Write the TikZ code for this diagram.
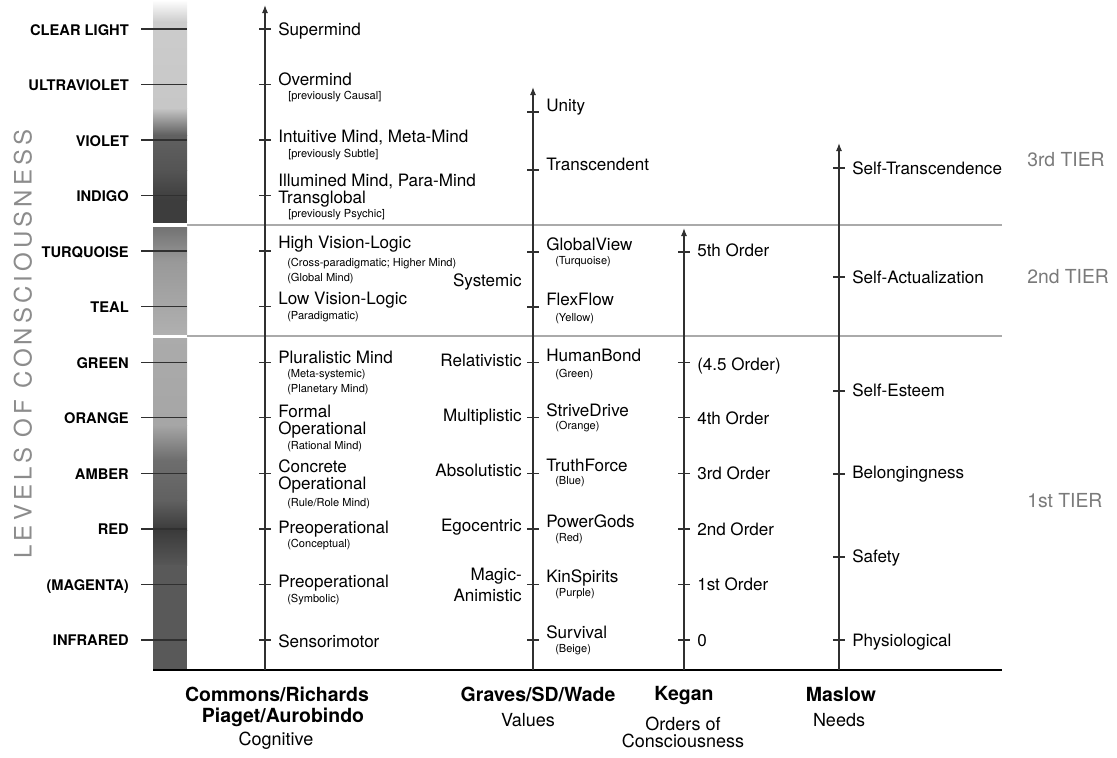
\documentclass[tikz,border=0pt]{standalone}
\usepackage{fontspec}
\setmainfont{TeX Gyre Heros}
\newfontfamily\levelsfont[LetterSpace=17]{TeX Gyre Heros}
\usetikzlibrary{arrows.meta}
\definecolor{Axis_Gray}{HTML}{303030}
\definecolor{Tier_Gray}{HTML}{AAAAAA}
\definecolor{Tier_Text}{HTML}{7A7A7A}
\definecolor{Levels_Text}{HTML}{8C8C8C}

\begin{document}
\begin{tikzpicture}[x=0.75pt, y=-0.75pt,
    axis/.style={draw=Axis_Gray, line width=0.9pt, -{Latex[length=6pt,width=4.5pt]}},
    tick/.style={draw=Axis_Gray, line width=0.8pt},
    tierline/.style={draw=Tier_Gray, line width=1.4pt},
    levelname/.style={font=\fontsize{11}{13}\selectfont\bfseries, anchor=base east, inner sep=0pt},
    stage/.style={font=\fontsize{12.8}{14}\selectfont, anchor=base west, inner sep=0pt},
    stageleft/.style={stage, anchor=base east},
    note/.style={font=\fontsize{8.3}{9}\selectfont, anchor=base west, inner sep=0pt},
    tier/.style={font=\fontsize{14.5}{16}\selectfont, text=Tier_Text, anchor=base west, inner sep=0pt},
    head/.style={font=\fontsize{14.6}{16}\selectfont\bfseries, anchor=base, inner sep=0pt},
    subhead/.style={font=\fontsize{13.5}{15}\selectfont, anchor=base, inner sep=0pt}]
    \useasboundingbox (0,0) rectangle (1117,757);

    % Shaded bar of the levels, three pieces
    \shade[top color=white, bottom color=black!20] (153,0) rectangle (187,22);
    \shade[top color=black!20, bottom color=black!22] (153,22) rectangle (187,108);
    \shade[top color=black!22, bottom color=black!62] (153,108) rectangle (187,135);
    \shade[top color=black!62, bottom color=black!67] (153,135) rectangle (187,170);
    \shade[top color=black!67, bottom color=black!76] (153,170) rectangle (187,200);
    \fill[black!76] (153,200) rectangle (187,223);
    \shade[top color=black!55, bottom color=black!40] (153,227) rectangle (187,262);
    \shade[top color=black!40, bottom color=black!31] (153,262) rectangle (187,334);
    \shade[top color=black!33, bottom color=black!35] (153,338) rectangle (187,425);
    \shade[top color=black!35, bottom color=black!57] (153,425) rectangle (187,460);
    \shade[top color=black!57, bottom color=black!62] (153,460) rectangle (187,500);
    \shade[top color=black!62, bottom color=black!77] (153,500) rectangle (187,530);
    \shade[top color=black!77, bottom color=black!66] (153,530) rectangle (187,565);
    \fill[black!65] (153,565) rectangle (187,670);

    % Tier lines and base line
    \draw[tierline] (187,225) -- (1002,225);
    \draw[tierline] (187,336) -- (1002,336);
    \draw[line width=1.6pt] (153,670) -- (1002,670);

    % Levels of consciousness
    \foreach \y in {29,84.5,140,195.6,251,306.8,362.3,417.9,473.4,529,584.5,640}
        \draw[tick] (141,\y) -- (187,\y);
    \node[levelname] (clearlight) at (129,35) {CLEAR LIGHT};
    \node[levelname] (ultraviolet) at (129,90.5) {ULTRAVIOLET};
    \node[levelname] (violet) at (129,146) {VIOLET};
    \node[levelname] (indigo) at (129,201.5) {INDIGO};
    \node[levelname] (turquoise) at (129,257) {TURQUOISE};
    \node[levelname] (teal) at (129,312.5) {TEAL};
    \node[levelname] (green) at (129,368) {GREEN};
    \node[levelname] (orange) at (129,423.5) {ORANGE};
    \node[levelname] (amber) at (129,479) {AMBER};
    \node[levelname] (red) at (129,534.5) {RED};
    \node[levelname] (magenta) at (129,590) {(MAGENTA)};
    \node[levelname] (infrared) at (129,645.5) {INFRARED};
    \node[rotate=90, text=Levels_Text, inner sep=0pt] (levels) at (23,344)
        {\levelsfont\fontsize{18}{20}\selectfont LEVELS OF CONSCIOUSNESS};

    % Cognitive line
    \coordinate (cogfoot) at (265,670);
    \coordinate (cogtip) at (265,5);
    \draw[axis] (cogfoot) -- (cogtip);
    \foreach \y in {29,84.5,140,195.6,251,306.8,362.3,417.9,473.4,529,584.5,640}
        \draw[tick] (259,\y) -- (271,\y);
    \node[stage] (supermind) at (278,35) {Supermind};
    \node[stage] (overmind) at (278,85) {Overmind};
    \node[note] (causal) at (288,99) {[previously Causal]};
    \node[stage] (intuitive) at (278,142) {Intuitive Mind, Meta-Mind};
    \node[note] (subtle) at (288,157) {[previously Subtle]};
    \node[stage] (illumined) at (278,186) {Illumined Mind, Para-Mind};
    \node[stage] (transglobal) at (278,203) {Transglobal};
    \node[note] (psychic) at (288,217) {[previously Psychic]};
    \node[stage] (highvl) at (278,248) {High Vision-Logic};
    \node[note] (crossparadigm) at (287,266) {(Cross-paradigmatic; Higher Mind)};
    \node[note] (globalmind) at (287,281) {(Global Mind)};
    \node[stage] (lowvl) at (278,304) {Low Vision-Logic};
    \node[note] (paradigm) at (287,319) {(Paradigmatic)};
    \node[stage] (pluralistic) at (278,363) {Pluralistic Mind};
    \node[note] (metasystemic) at (287,377) {(Meta-systemic)};
    \node[note] (planetary) at (287,392) {(Planetary Mind)};
    \node[stage] (formal) at (278,417) {Formal};
    \node[stage] (formalop) at (278,434) {Operational};
    \node[note] (rational) at (287,449) {(Rational Mind)};
    \node[stage] (concrete) at (278,472) {Concrete};
    \node[stage] (concreteop) at (278,489) {Operational};
    \node[note] (rulerole) at (287,506) {(Rule/Role Mind)};
    \node[stage] (preopconc) at (278,533) {Preoperational};
    \node[note] (conceptual) at (287,547) {(Conceptual)};
    \node[stage] (preopsymb) at (278,587) {Preoperational};
    \node[note] (symbolic) at (287,602) {(Symbolic)};
    \node[stage] (sensorimotor) at (278,647) {Sensorimotor};

    % Values line
    \coordinate (valfoot) at (533,670);
    \coordinate (valtip) at (533,87);
    \draw[axis] (valfoot) -- (valtip);
    \foreach \y in {112,170,252,307,362.3,417.9,473.4,529,584.5,640}
        \draw[tick] (527,\y) -- (539,\y);
    \node[stageleft] (systemic) at (522,286) {Systemic};
    \node[stageleft] (relativistic) at (522,366) {Relativistic};
    \node[stageleft] (multiplistic) at (522,421) {Multiplistic};
    \node[stageleft] (absolutistic) at (522,476) {Absolutistic};
    \node[stageleft] (egocentric) at (522,531) {Egocentric};
    \node[stageleft] (magic) at (522,580) {Magic-};
    \node[stageleft] (animistic) at (522,601) {Animistic};
    \node[stage] (unity) at (546,111) {Unity};
    \node[stage] (transcendent) at (546,170) {Transcendent};
    \node[stage] (globalview) at (546,250) {GlobalView};
    \node[note] (turq) at (555,264) {(Turquoise)};
    \node[stage] (flexflow) at (546,305) {FlexFlow};
    \node[note] (yellow) at (555,321) {(Yellow)};
    \node[stage] (humanbond) at (546,361) {HumanBond};
    \node[note] (greenmeme) at (555,377) {(Green)};
    \node[stage] (strivedrive) at (546,416) {StriveDrive};
    \node[note] (orangememe) at (555,429) {(Orange)};
    \node[stage] (truthforce) at (546,471) {TruthForce};
    \node[note] (bluememe) at (555,484) {(Blue)};
    \node[stage] (powergods) at (546,527) {PowerGods};
    \node[note] (redmeme) at (555,541) {(Red)};
    \node[stage] (kinspirits) at (546,582) {KinSpirits};
    \node[note] (purplememe) at (555,596) {(Purple)};
    \node[stage] (survival) at (546,638) {Survival};
    \node[note] (beigememe) at (555,652) {(Beige)};

    % Orders line
    \coordinate (ordfoot) at (684,670);
    \coordinate (ordtip) at (684,228);
    \draw[axis] (ordfoot) -- (ordtip);
    \foreach \y in {252,362.3,417.9,473.4,529,584.5,640}
        \draw[tick] (678,\y) -- (690,\y);
    \node[stage] (fifth) at (697,256) {5th Order};
    \node[stage] (fourhalf) at (697,370) {(4.5 Order)};
    \node[stage] (fourth) at (697,424) {4th Order};
    \node[stage] (third) at (697,479) {3rd Order};
    \node[stage] (second) at (697,535) {2nd Order};
    \node[stage] (first) at (697,590) {1st Order};
    \node[stage] (zeroth) at (697,646) {0};

    % Needs line
    \coordinate (needfoot) at (839,670);
    \coordinate (needtip) at (839,143);
    \draw[axis] (needfoot) -- (needtip);
    \foreach \y in {168,277,391,474,557,640}
        \draw[tick] (833,\y) -- (845,\y);
    \node[stage] (selftrans) at (852,174) {Self-Transcendence};
    \node[stage] (selfact) at (852,283) {Self-Actualization};
    \node[stage] (esteem) at (852,396) {Self-Esteem};
    \node[stage] (belonging) at (852,478) {Belongingness};
    \node[stage] (safety) at (852,562) {Safety};
    \node[stage] (physio) at (852,646) {Physiological};

    % Tiers
    \node[tier] (tierthree) at (1027,166) {3rd TIER};
    \node[tier] (tiertwo) at (1027,283) {2nd TIER};
    \node[tier] (tierone) at (1027,507) {1st TIER};

    % Column headings
    \node[head] (commons) at (277,701) {Commons/Richards};
    \node[head] (piaget) at (283,722) {Piaget/Aurobindo};
    \node[subhead] (cognitive) at (276,745) {Cognitive};
    \node[head] (graves) at (538,701) {Graves/SD/Wade};
    \node[subhead] (values) at (528,726) {Values};
    \node[head] (kegan) at (684,700) {Kegan};
    \node[subhead] (ordersof) at (683,730) {Orders of};
    \node[subhead] (consc) at (683,747) {Consciousness};
    \node[head] (maslow) at (841,701) {Maslow};
    \node[subhead] (needs) at (839,726) {Needs};
\end{tikzpicture}
\end{document}
